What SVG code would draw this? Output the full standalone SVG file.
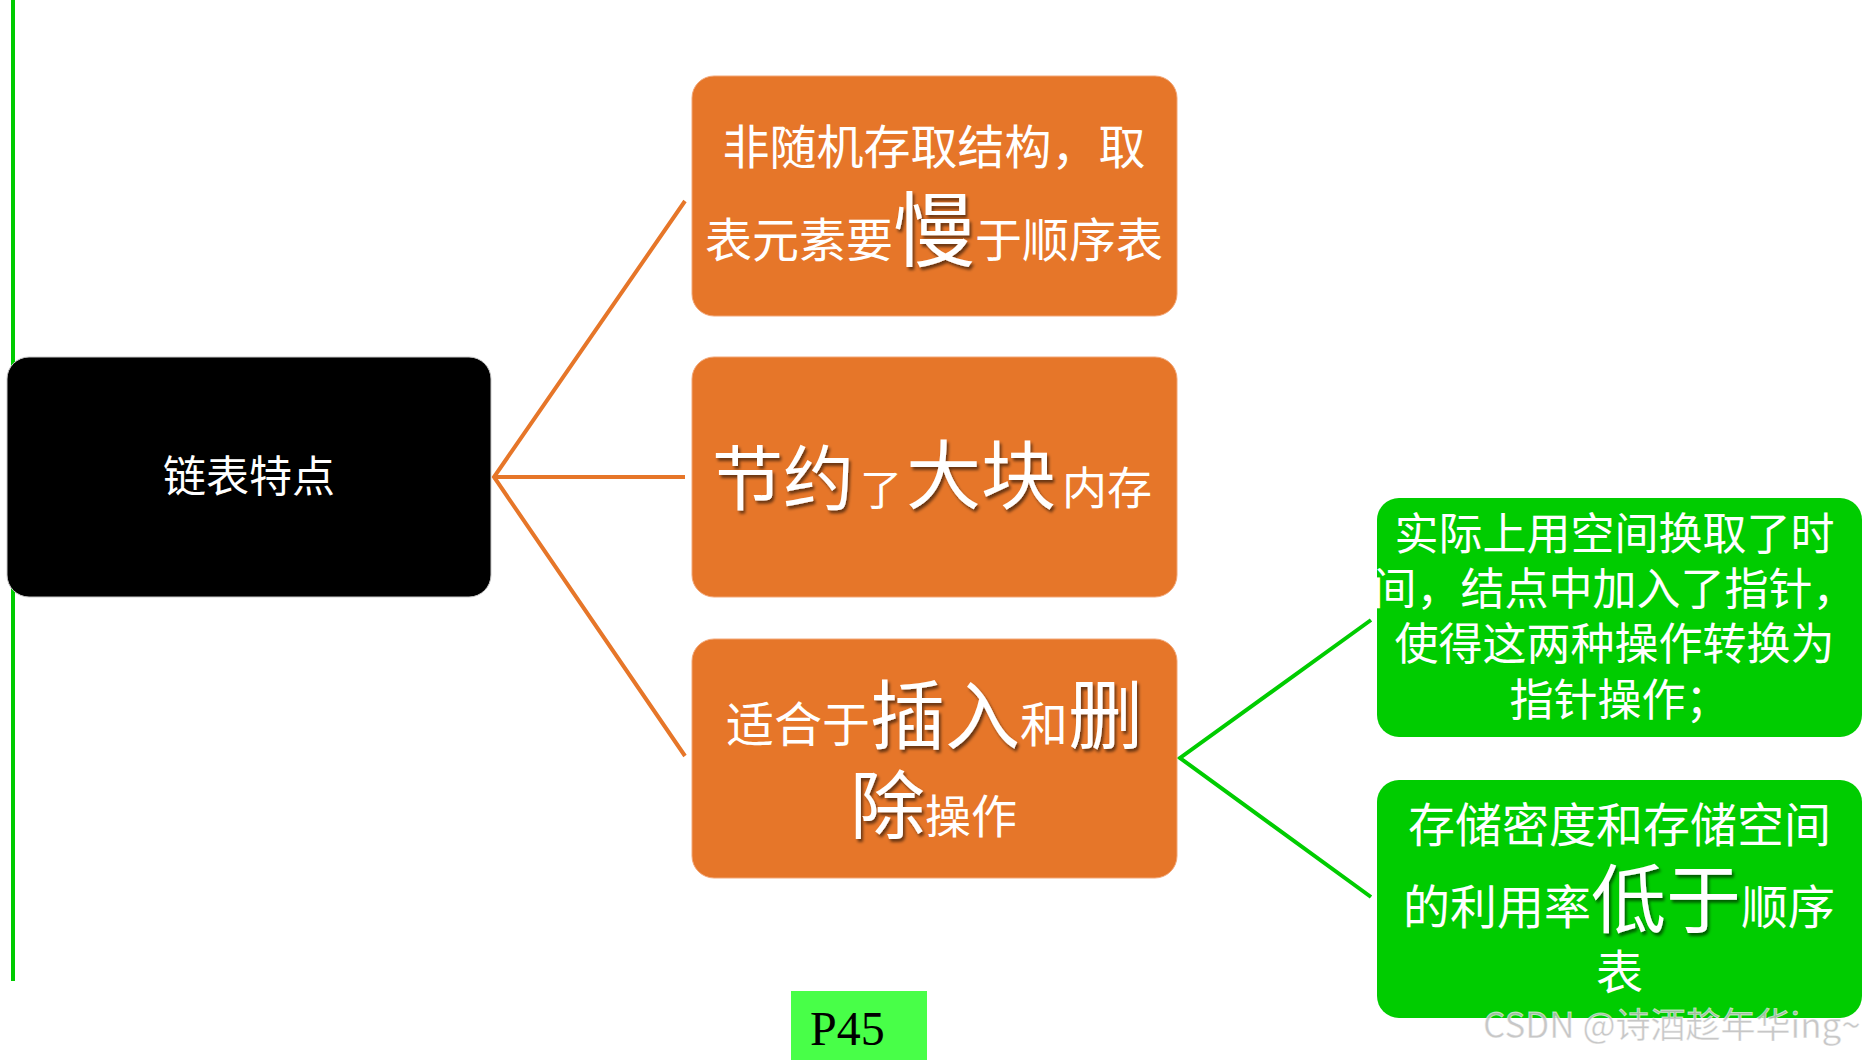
<svg xmlns="http://www.w3.org/2000/svg" width="1876" height="1060" viewBox="0 0 1876 1060">
<style>
.cjk{font-family:"Noto Sans CJK SC","Noto Sans CJK JP",sans-serif;fill:#ffffff}
.orange{fill:#E67629;stroke:#F2A677;stroke-width:1}
.green{fill:#00CC00}
.oline{stroke:#E67629;stroke-width:4;fill:none}
.gline{stroke:#00CC00;stroke-width:4;fill:none}
</style>
<defs>
<filter id="sh" x="-20%" y="-20%" width="140%" height="140%">
<feDropShadow dx="2" dy="3" stdDeviation="1.5" flood-color="#000" flood-opacity="0.55"/>
</filter>
</defs>
<rect width="1876" height="1060" fill="#ffffff"/>
<g id="connectors">
<line class="gline" x1="13" y1="0" x2="13" y2="981"/>
<polyline class="oline" points="685,201 494,477 685,756"/>
<line class="oline" x1="494" y1="477" x2="685" y2="477"/>
<polyline class="gline" points="1371,620 1180,758 1371,897"/>
</g>
<g id="root">
<rect x="7" y="357" width="484" height="240" rx="22" fill="#000000" stroke="#c8c8c8" stroke-width="1"/>
<text class="cjk" x="249" y="492" font-size="43" text-anchor="middle">链表特点</text>
</g>
<g id="node1">
<rect class="orange" x="692" y="76" width="485" height="240" rx="22"/>
<text class="cjk" x="934" y="164" font-size="47" text-anchor="middle">非随机存取结构，取</text>
<text class="cjk" x="705" y="257" font-size="47">表元素要</text>
<text class="cjk" x="893" y="260" font-size="82" filter="url(#sh)">慢</text>
<text class="cjk" x="975" y="257" font-size="47">于顺序表</text>
</g>
<g id="node2">
<rect class="orange" x="692" y="357" width="485" height="240" rx="22"/>
<text class="cjk" x="712" y="504" font-size="71" filter="url(#sh)">节约</text>
<text class="cjk" x="860" y="505" font-size="42">了</text>
<text class="cjk" x="906" y="503" font-size="75" filter="url(#sh)">大块</text>
<text class="cjk" x="1062" y="505" font-size="45">内存</text>
</g>
<g id="node3">
<rect class="orange" x="692" y="639" width="485" height="239" rx="22"/>
<text class="cjk" x="726" y="742" font-size="48">适合于</text>
<text class="cjk" x="870" y="743" font-size="75" filter="url(#sh)">插入</text>
<text class="cjk" x="1020" y="742" font-size="48">和</text>
<text class="cjk" x="1068" y="743" font-size="75" filter="url(#sh)">删</text>
<text class="cjk" x="850" y="833" font-size="75" filter="url(#sh)">除</text>
<text class="cjk" x="925" y="833" font-size="46">操作</text>
</g>
<g id="node4">
<rect class="green" x="1377" y="498" width="485" height="239" rx="22"/>
<text class="cjk" font-size="44" text-anchor="middle">
<tspan x="1619.5" y="550">实际上用空间换取了时</tspan>
<tspan x="1619.5" y="605">间，结点中加入了指针，</tspan>
<tspan x="1619.5" y="660">使得这两种操作转换为</tspan>
<tspan x="1619.5" y="716">指针操作；</tspan>
</text>
</g>
<g id="node5">
<rect class="green" x="1377" y="780" width="485" height="238" rx="22"/>
<text class="cjk" x="1619.5" y="842" font-size="47" text-anchor="middle">存储密度和存储空间</text>
<text class="cjk" x="1403" y="924" font-size="47">的利用率</text>
<text class="cjk" x="1591" y="927" font-size="75" filter="url(#sh)">低于</text>
<text class="cjk" x="1741" y="924" font-size="47">顺序</text>
<text class="cjk" x="1619.5" y="989" font-size="47" text-anchor="middle">表</text>
</g>
<g id="page">
<rect x="791" y="991" width="136" height="69" fill="#48FF48"/>
<text x="810" y="1045" font-family="Liberation Serif, serif" font-size="48" fill="#000000">P45</text>
</g>
<g id="watermark">
<text x="1483" y="1038" font-family="Noto Sans CJK SC, sans-serif" font-size="35" fill="#bdbdbd" fill-opacity="0.85" stroke="#ffffff" stroke-width="0.8" stroke-opacity="0.6">CSDN @诗酒趁年华ing~</text>
</g>
</svg>
